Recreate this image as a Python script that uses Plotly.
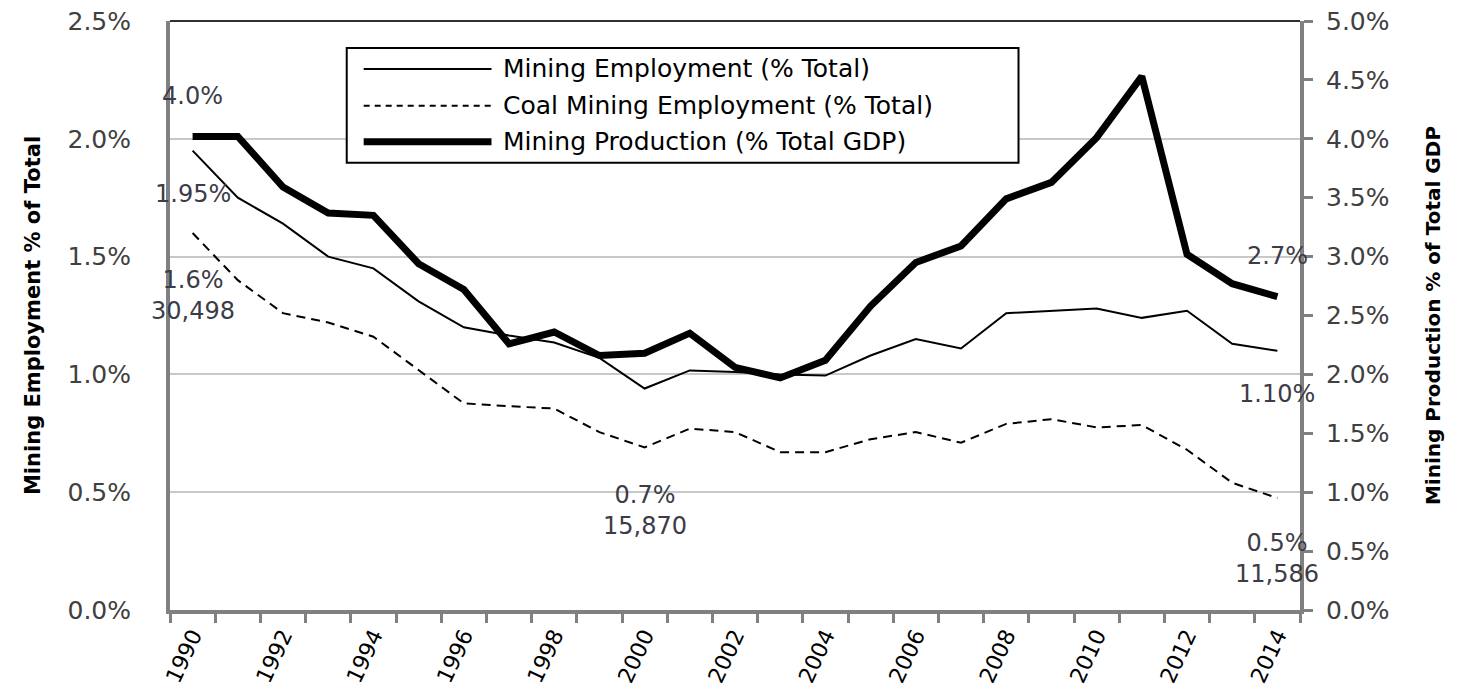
import plotly.graph_objects as go

# data
years = list(range(1990, 2015))
mining_emp = [1.95, 1.75, 1.64, 1.50, 1.45, 1.31, 1.20, 1.165, 1.135, 1.07,
              0.94, 1.017, 1.01, 1.00, 0.995, 1.08, 1.15, 1.11, 1.26, 1.27,
              1.28, 1.24, 1.27, 1.13, 1.10]
coal_emp = [1.60, 1.40, 1.26, 1.22, 1.16, 1.02, 0.877, 0.865, 0.855, 0.755,
            0.69, 0.77, 0.755, 0.67, 0.67, 0.725, 0.755, 0.71, 0.79, 0.81,
            0.775, 0.785, 0.68, 0.54, 0.475]
mining_prod = [4.02, 4.02, 3.59, 3.37, 3.35, 2.94, 2.72, 2.26, 2.36, 2.16,
               2.18, 2.35, 2.06, 1.97, 2.12, 2.58, 2.95, 3.09, 3.49, 3.63,
               4.01, 4.53, 3.02, 2.77, 2.66]
x_ticks = list(range(1990, 2015, 2))
series_names = ["Mining Employment (% Total)",
                "Coal Mining Employment (% Total)",
                "Mining Production (% Total GDP)"]

FONT = "DejaVu Sans"
TXT = "#404040"
AXIS = "#808080"

fig = go.Figure()

fig.add_scatter(x=years, y=mining_emp, mode="lines", name=series_names[0],
                line=dict(color="black", width=2), showlegend=False)
fig.add_scatter(x=years, y=coal_emp, mode="lines", name=series_names[1],
                line=dict(color="black", width=2, dash="9px,6px"), showlegend=False)
fig.add_scatter(x=years, y=mining_prod, mode="lines", name=series_names[2],
                yaxis="y2", line=dict(color="black", width=7),
                showlegend=False)

# page body has a small margin, so the figure is a bit smaller than the window
fig.update_layout(
    width=1454,
    height=686,
    margin=dict(l=162, r=162, t=13, b=84),
    paper_bgcolor="white",
    plot_bgcolor="white",
    font=dict(family=FONT, color=TXT, size=25),
    xaxis=dict(
        range=[1989.5, 2014.5],
        tickvals=x_ticks,
        ticktext=[str(y) for y in x_ticks],
        tickangle=-65,
        ticks="",
        tickfont=dict(size=22, color="black"),
        ticklabeloverflow="allow",
        showline=True, linecolor=AXIS, linewidth=4,
        showgrid=False, zeroline=False,
        automargin=False,
        minor=dict(tickmode="linear", tick0=1989.5, dtick=1, ticks="outside",
                   ticklen=9, tickwidth=3, tickcolor=AXIS, showgrid=False),
    ),
    yaxis=dict(
        range=[0, 2.5],
        dtick=0.5,
        tickformat=".1f",
        ticksuffix="%",
        ticklabelstandoff=30,
        ticklabeloverflow="allow",
        showline=True, linecolor=AXIS, linewidth=4,
        showgrid=True, gridcolor="#c8c8c8", gridwidth=2,
        zeroline=False,
        automargin=False,
        title=dict(text="<b>Mining Employment % of Total</b>",
                   font=dict(size=21, color="black"), standoff=22),
    ),
    yaxis2=dict(
        range=[0, 5.0],
        dtick=0.5,
        tickformat=".1f",
        ticksuffix="%",
        overlaying="y",
        side="right",
        ticks="outside", ticklen=9, tickwidth=3, tickcolor=AXIS,
        ticklabelstandoff=8,
        ticklabeloverflow="allow",
        showline=True, linecolor=AXIS, linewidth=4,
        showgrid=False, zeroline=False,
        automargin=False,
        title=dict(text="<b>Mining Production % of Total GDP</b>",
                   font=dict(size=20, color="black"), standoff=38),
    ),
)

# top border of the plot area
fig.add_shape(type="line", xref="paper", yref="paper", x0=0, x1=1, y0=1, y1=1,
              line=dict(color="#303030", width=2))

# legend drawn as a box with long line samples
fig.add_shape(type="rect", xref="paper", yref="paper",
              x0=0.1564, x1=0.7509, y0=0.7593, y1=0.9542,
              line=dict(color="black", width=2), fillcolor="white")
legend_rows = [0.9186, 0.8559, 0.7949]
legend_styles = [dict(width=2), dict(width=2, dash="6px,5px"), dict(width=7)]
for row, style, name in zip(legend_rows, legend_styles, series_names):
    fig.add_shape(type="line", xref="paper", yref="paper",
                  x0=0.1714, x1=0.2845, y0=row, y1=row,
                  line=dict(color="black", **style))
    fig.add_annotation(xref="paper", yref="paper", x=0.2933, y=row,
                       text=name, showarrow=False, xanchor="left",
                       yanchor="middle", font=dict(size=25, color="black"))

# point labels
point_labels = [
    (years[0], mining_prod[0], "y2", "4.0%", 40),
    (years[0], mining_emp[0], "y", "1.95%", -43),
    (years[0], coal_emp[0], "y", "1.6%<br>30,498", -62),
    (years[10], coal_emp[10], "y", "0.7%<br>15,870", -63),
    (years[-1], mining_prod[-1], "y2", "2.7%", 41),
    (years[-1], mining_emp[-1], "y", "1.10%", -43),
    (years[-1], coal_emp[-1], "y", "0.5%<br>11,586", -60),
]
for x, y, yref, text, shift in point_labels:
    fig.add_annotation(x=x, y=y, yref=yref, text=text, showarrow=False,
                       xanchor="center", yanchor="middle",
                       yshift=shift, font=dict(size=24, color="#3c3c48"))

fig.write_html("out.html")
